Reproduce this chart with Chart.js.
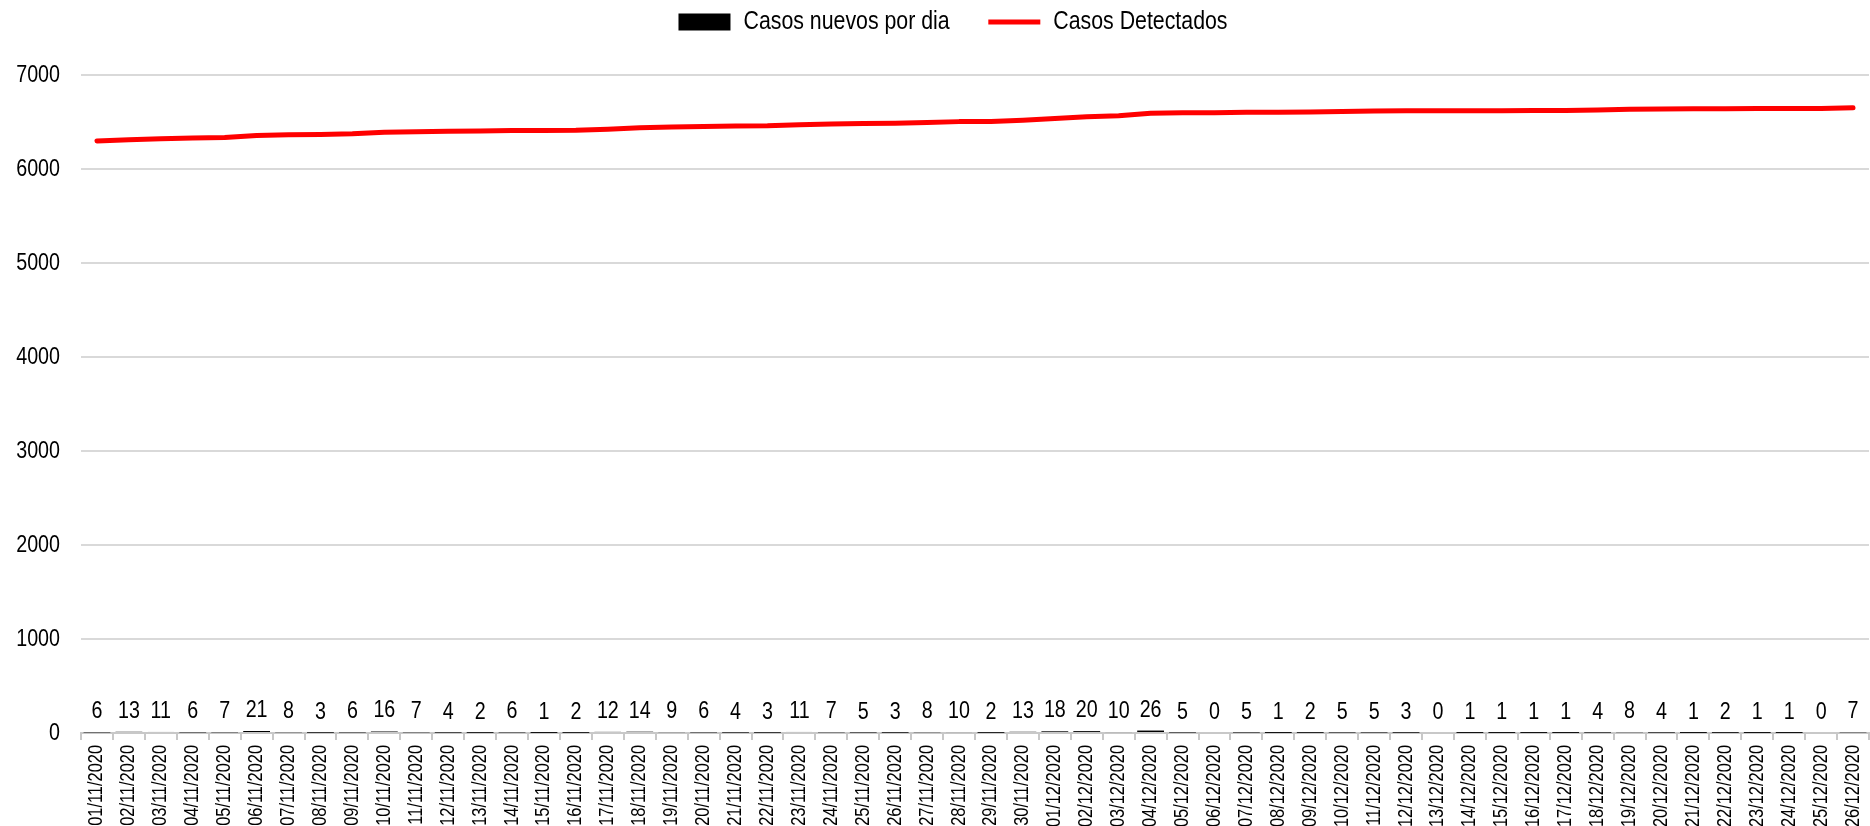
<!DOCTYPE html>
<html>
<head>
<meta charset="utf-8">
<script src="https://cdn.jsdelivr.net/npm/chart.js@4.4.1/dist/chart.umd.min.js"></script>
<style>
html,body{margin:0;padding:0;background:#fff;}
#wrap{width:1870px;height:826px;position:relative;}
</style>
</head>
<body>
<div id="wrap"><canvas id="c"></canvas></div>
<script>
const categories = ["01/11/2020","02/11/2020","03/11/2020","04/11/2020","05/11/2020","06/11/2020","07/11/2020","08/11/2020","09/11/2020","10/11/2020","11/11/2020","12/11/2020","13/11/2020","14/11/2020","15/11/2020","16/11/2020","17/11/2020","18/11/2020","19/11/2020","20/11/2020","21/11/2020","22/11/2020","23/11/2020","24/11/2020","25/11/2020","26/11/2020","27/11/2020","28/11/2020","29/11/2020","30/11/2020","01/12/2020","02/12/2020","03/12/2020","04/12/2020","05/12/2020","06/12/2020","07/12/2020","08/12/2020","09/12/2020","10/12/2020","11/12/2020","12/12/2020","13/12/2020","14/12/2020","15/12/2020","16/12/2020","17/12/2020","18/12/2020","19/12/2020","20/12/2020","21/12/2020","22/12/2020","23/12/2020","24/12/2020","25/12/2020","26/12/2020"];
const casosNuevos = [6,13,11,6,7,21,8,3,6,16,7,4,2,6,1,2,12,14,9,6,4,3,11,7,5,3,8,10,2,13,18,20,10,26,5,0,5,1,2,5,5,3,0,1,1,1,1,4,8,4,1,2,1,1,0,7];
const casosDetectados = [6299,6312,6323,6329,6336,6357,6365,6368,6374,6390,6397,6401,6403,6409,6410,6412,6424,6438,6447,6453,6457,6460,6471,6478,6483,6486,6494,6504,6506,6519,6537,6557,6567,6593,6598,6598,6603,6604,6606,6611,6616,6619,6619,6620,6621,6622,6623,6627,6635,6639,6640,6642,6643,6644,6644,6651];
const yTicks = [0,1000,2000,3000,4000,5000,6000,7000];
const seriesNames = ['Casos nuevos por dia', 'Casos Detectados'];

const FONT = "'Liberation Sans', Arial, sans-serif";
const NARROW = 0.82;

// Emulate a narrow face (like Arial Narrow) by condensing canvas text horizontally.
const canvas = document.getElementById('c');
const ctx2d = canvas.getContext('2d');
const proto = CanvasRenderingContext2D.prototype;
ctx2d.fillText = function (t, x, y, maxW) {
  this.save();
  this.translate(x, y);
  this.scale(NARROW, 1);
  if (maxW !== undefined) proto.fillText.call(this, t, 0, 0, maxW / NARROW);
  else proto.fillText.call(this, t, 0, 0);
  this.restore();
};
ctx2d.measureText = function (t) {
  const m = proto.measureText.call(this, t);
  return {
    width: m.width * NARROW,
    actualBoundingBoxLeft: m.actualBoundingBoxLeft * NARROW,
    actualBoundingBoxRight: m.actualBoundingBoxRight * NARROW,
    actualBoundingBoxAscent: m.actualBoundingBoxAscent,
    actualBoundingBoxDescent: m.actualBoundingBoxDescent,
    fontBoundingBoxAscent: m.fontBoundingBoxAscent,
    fontBoundingBoxDescent: m.fontBoundingBoxDescent
  };
};

const barLabels = {
  id: 'barLabels',
  afterDatasetsDraw(chart) {
    const meta = chart.getDatasetMeta(0);
    const ctx = chart.ctx;
    ctx.save();
    ctx.font = "24px " + FONT;
    ctx.fillStyle = '#000';
    ctx.textAlign = 'center';
    ctx.textBaseline = 'alphabetic';
    meta.data.forEach((bar, i) => {
      ctx.fillText(String(casosNuevos[i]), bar.x, bar.y - 14);
    });
    ctx.restore();
  }
};

// Extra empty space under the legend row.
const legendSpacer = {
  id: 'legendSpacer',
  beforeLayout(chart) {
    const lg = chart.legend;
    if (lg && !lg._spacerPatched) {
      const fit = lg.fit;
      lg.fit = function () { fit.call(this); this.height += 30; };
      lg._spacerPatched = true;
    }
  }
};

Chart.defaults.font.family = FONT;
Chart.defaults.color = '#000';

new Chart(canvas, {
  data: {
    labels: categories,
    datasets: [
      {
        type: 'bar',
        label: seriesNames[0],
        data: casosNuevos,
        backgroundColor: '#000',
        borderWidth: 0,
        barPercentage: 0.84,
        categoryPercentage: 1.0,
        pointStyle: 'rect'
      },
      {
        type: 'line',
        label: seriesNames[1],
        data: casosDetectados,
        borderColor: '#ff0000',
        backgroundColor: '#ff0000',
        borderWidth: 5,
        borderCapStyle: 'round',
        borderJoinStyle: 'round',
        pointRadius: 0,
        pointHoverRadius: 0,
        pointStyle: 'line',
        tension: 0
      }
    ]
  },
  options: {
    responsive: true,
    maintainAspectRatio: false,
    animation: false,
    layout: { padding: { left: 37, right: 1, top: 0, bottom: 0 } },
    plugins: {
      tooltip: { enabled: false },
      legend: {
        position: 'top',
        align: 'center',
        labels: {
          usePointStyle: true,
          pointStyleWidth: 52,
          boxWidth: 52,
          boxHeight: 17,
          padding: 9,
          color: '#000',
          font: { size: 26, family: FONT },
          generateLabels(chart) {
            const items = Chart.defaults.plugins.legend.labels.generateLabels(chart);
            // extra gap after the first entry, as in the original legend
            items[0].text = items[0].text + '\u00A0\u00A0\u00A0\u00A0\u00A0';
            return items;
          }
        }
      }
    },
    scales: {
      x: {
        offset: true,
        afterFit(axis) {
          axis.paddingLeft = 0;
          axis.paddingRight = 0;
          // the original's rotated date labels reach the bottom edge
          axis.height = 93;
        },
        grid: {
          offset: true,
          drawOnChartArea: false,
          drawTicks: true,
          tickLength: 7,
          color: '#c8c8c8',
          lineWidth: 2
        },
        border: { display: true, color: '#c8c8c8', width: 2 },
        ticks: {
          autoSkip: false,
          maxRotation: 90,
          minRotation: 90,
          padding: 5,
          color: '#000',
          font: { size: 20, family: FONT }
        }
      },
      y: {
        min: 0,
        max: 7000,
        afterBuildTicks(axis) { axis.ticks = yTicks.map(v => ({ value: v })); },
        afterFit(axis) {
          axis.width = 44;
          // let the tick labels extend left of the (narrowed) axis box
          axis._computeLabelArea = function () { return undefined; };
        },
        grid: { color: '#d9d9d9', lineWidth: 2, drawTicks: false },
        border: { display: false },
        ticks: {
          padding: 21,
          color: '#000',
          font: { size: 24, family: FONT },
          callback: (v) => String(v)
        }
      }
    }
  },
  plugins: [barLabels, legendSpacer]
});
</script>
</body>
</html>
